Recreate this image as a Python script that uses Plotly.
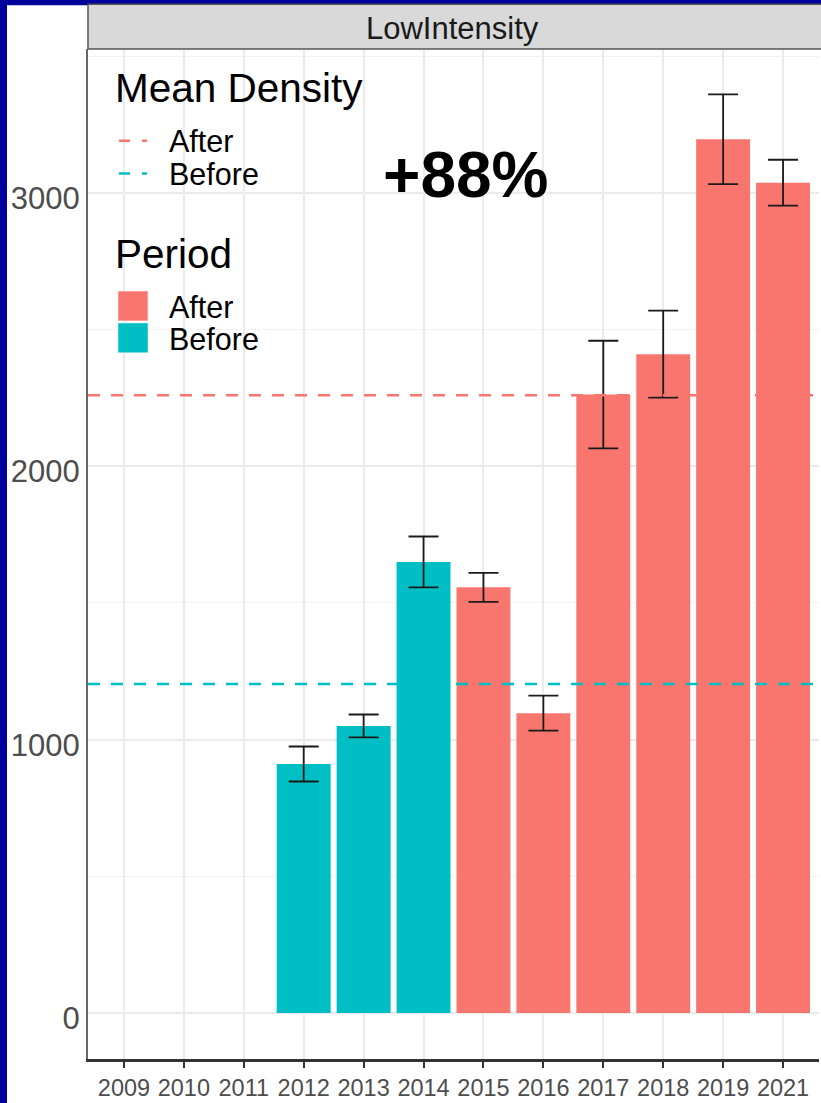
import plotly.graph_objects as go

# Axis categories (2020 has no survey) and per-year bar data
years_axis = ["2009", "2010", "2011", "2012", "2013", "2014", "2015",
              "2016", "2017", "2018", "2019", "2021"]
bar_years = ["2012", "2013", "2014", "2015", "2016", "2017", "2018", "2019", "2021"]
density = [911, 1050, 1650, 1557, 1097, 2262, 2410, 3196, 3037]
std_err = [64, 42, 93, 53, 64, 197, 159, 164, 84]
period = ["Before", "Before", "Before", "After", "After", "After", "After", "After", "After"]

panel_title = "LowIntensity"
period_colors = {"After": "#F8766D", "Before": "#00BFC4"}
FONT = "Liberation Sans, Arial, sans-serif"

# Figure geometry (pixels)
W, H = 821, 1103
L, R, T, B = 88, 819, 49, 1063


def px(x):
    return (x - L) / (R - L)


def py(y):
    return (B - y) / (B - T)


fig = go.Figure()

for p in ["Before", "After"]:
    idx = [i for i, v in enumerate(period) if v == p]
    fig.add_trace(go.Bar(
        x=[years_axis.index(bar_years[i]) for i in idx],
        y=[density[i] for i in idx],
        width=0.9,
        marker=dict(color=period_colors[p], line=dict(width=0)),
        error_y=dict(type="data", array=[std_err[i] for i in idx],
                     color="#1a1a1a", thickness=1.8, width=15),
        name=p,
        showlegend=False,
    ))

# Period means
means = {}
for p in ["After", "Before"]:
    vals = [d for d, v in zip(density, period) if v == p]
    means[p] = sum(vals) / len(vals)
pct = round((means["After"] / means["Before"] - 1) * 100)

shapes = [
    # white card on the dark frame
    dict(type="rect", xref="paper", yref="paper", layer="below",
         x0=px(7), x1=px(830), y0=py(1120), y1=py(5),
         fillcolor="white", line=dict(width=0)),
    # facet strip
    dict(type="rect", xref="paper", yref="paper", layer="above",
         x0=0, x1=px(840), y0=1, y1=py(4),
         fillcolor="#d9d9d9", line=dict(color="#555555", width=1.5)),
]

for p in ["After", "Before"]:
    shapes.append(dict(type="line", xref="paper", yref="y", layer="above",
                       x0=0, x1=1, y0=means[p], y1=means[p],
                       line=dict(color=period_colors[p], width=2.5, dash="12px,11px")))

annotations = [
    dict(text=panel_title, xref="paper", yref="paper", x=px(452), y=py(28),
         xanchor="center", yanchor="middle", showarrow=False,
         font=dict(family=FONT, size=31, color="#1a1a1a")),
    dict(text=f"<b>+{pct}%</b>", xref="paper", yref="paper", x=px(465), y=py(175),
         xanchor="center", yanchor="middle", showarrow=False,
         font=dict(family=FONT, size=64, color="black")),
]

# Legend block
legend_titles = [("Mean Density", 88.5), ("Period", 254.5)]
for txt, yc in legend_titles:
    annotations.append(dict(text=txt, xref="paper", yref="paper", x=px(113), y=py(yc),
                            xanchor="left", yanchor="middle", showarrow=False,
                            font=dict(family=FONT, size=40.5, color="black")))

line_rows = [("After", 141), ("Before", 174)]
for p, yc in line_rows:
    shapes.append(dict(type="line", xref="paper", yref="paper", layer="above",
                       x0=px(119), x1=px(147), y0=py(yc), y1=py(yc),
                       line=dict(color=period_colors[p], width=2.5, dash="11px,12px")))
    annotations.append(dict(text=p, xref="paper", yref="paper", x=px(167), y=py(yc),
                            xanchor="left", yanchor="middle", showarrow=False,
                            font=dict(family=FONT, size=30.5, color="black")))

box_rows = [("After", 292), ("Before", 324)]
for p, ytop in box_rows:
    shapes.append(dict(type="rect", xref="paper", yref="paper", layer="above",
                       x0=px(118), x1=px(148), y0=py(ytop + 30), y1=py(ytop),
                       fillcolor=period_colors[p], line=dict(color="white", width=0.5)))
    annotations.append(dict(text=p, xref="paper", yref="paper", x=px(167), y=py(ytop + 16),
                            xanchor="left", yanchor="middle", showarrow=False,
                            font=dict(family=FONT, size=30.5, color="black")))

fig.update_layout(
    width=W, height=H,
    margin=dict(l=L, r=W - R, t=T, b=H - B, pad=0),
    paper_bgcolor="#00009c",
    plot_bgcolor="white",
    barmode="overlay",
    showlegend=False,
    shapes=shapes,
    annotations=annotations,
    font=dict(family=FONT),
)

fig.update_xaxes(
    range=[-0.6, len(years_axis) - 0.4],
    tickmode="array", tickvals=list(range(len(years_axis))), ticktext=years_axis,
    ticks="outside", ticklen=6, tickwidth=1.5, tickcolor="#333333",
    tickfont=dict(family=FONT, size=23.5, color="#4d4d4d"),
    showgrid=True, gridcolor="#ebebeb", gridwidth=1.5,
    showline=True, linecolor="#333333", linewidth=2.5,
    zeroline=False, fixedrange=True,
)

fig.update_yaxes(
    range=[-168, 3526],
    tickmode="linear", tick0=0, dtick=1000,
    ticks="", ticklabelstandoff=0, ticklabelshift=5,
    tickfont=dict(family=FONT, size=31, color="#4d4d4d"),
    showgrid=True, gridcolor="#ebebeb", gridwidth=1.5,
    minor=dict(dtick=500, showgrid=True, gridcolor="#f2f2f2", gridwidth=1),
    showline=True, linecolor="#666666", linewidth=2,
    zeroline=False, fixedrange=True,
)

fig.write_html("out.html")
